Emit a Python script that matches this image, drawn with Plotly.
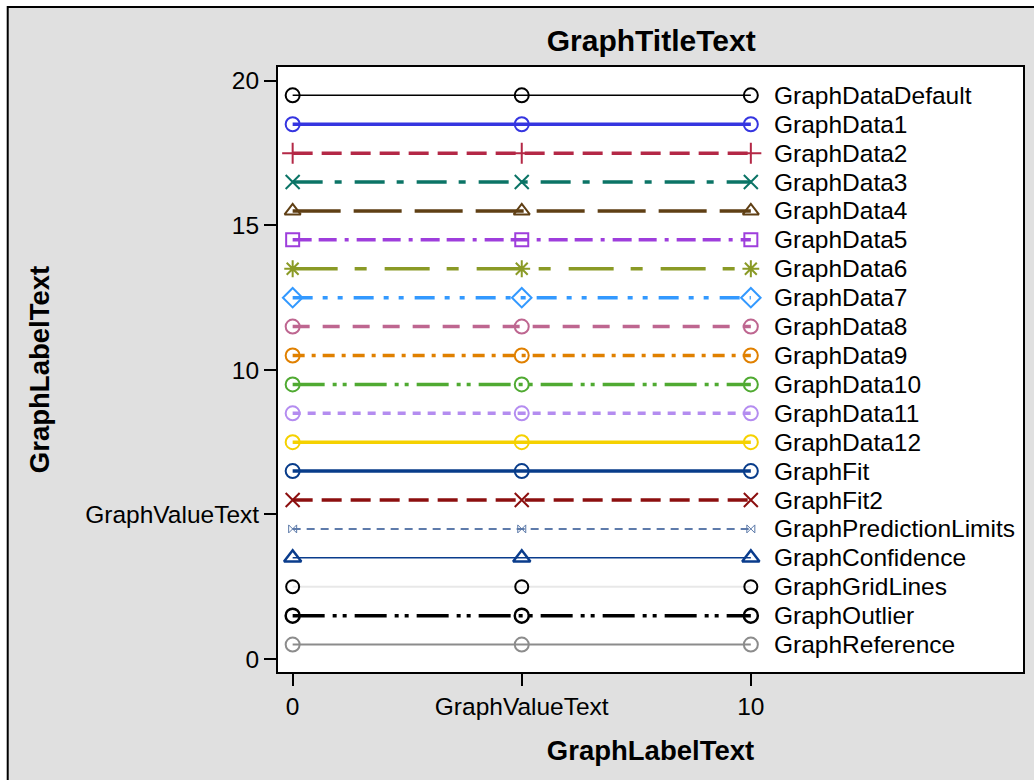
import plotly.graph_objects as go

# ---- data ----
series_names = [
    "GraphDataDefault", "GraphData1", "GraphData2", "GraphData3", "GraphData4",
    "GraphData5", "GraphData6", "GraphData7", "GraphData8", "GraphData9",
    "GraphData10", "GraphData11", "GraphData12", "GraphFit", "GraphFit2",
    "GraphPredictionLimits", "GraphConfidence", "GraphGridLines", "GraphOutlier",
    "GraphReference",
]
series_y = [19.5, 18.5, 17.5, 16.5, 15.5, 14.5, 13.5, 12.5, 11.5, 10.5,
            9.5, 8.5, 7.5, 6.5, 5.5, 4.5, 3.5, 2.5, 1.5, 0.5]
x_values = [0, 5, 10]
x_tickvals = [0, 5, 10]
x_ticktext = ["0", "GraphValueText", "10"]
y_tickvals = [0, 5, 10, 15, 20]
y_ticktext = ["0", "GraphValueText", "10", "15", "20"]

# ---- styles: (line color, line width, dash, marker symbol, marker color, marker size, marker line width)
styles = [
    ("#000000", 1.5, "solid", "circle-open", "#000000", 14, 2),
    ("#3535E0", 3.5, "solid", "circle-open", "#3535E0", 14, 2),
    ("#B42846", 3.5, "20px,9px", "cross-thin-open", "#B42846", 15, 2),
    ("#0B7466", 3.5, "30px,12px,7px,13px", "x-thin-open", "#0B7466", 14, 2),
    ("#5F3F14", 3.5, "48px,13px", "triangle-up-open", "#5F3F14", 14, 2),
    ("#9E3EDC", 3.5, "19px,7px,18px,8px,4px,8px", "square-open", "#9E3EDC", 13, 2),
    ("#8A9A26", 3.5, "45px,17px,12px,18px", "asterisk-open", "#8A9A26", 14, 2),
    ("#3399FF", 3.5, "20px,10px,5px,10px,5px,11px", "diamond-open", "#3399FF", 15, 2),
    ("#BE6690", 3.5, "17px,13px", "circle-open", "#BE6690", 14, 2),
    ("#E08000", 3.5, "12px,7px,4px,7px", "circle-open", "#E08000", 14, 2),
    ("#50AA32", 3.5, "32px,8px,4px,6px,4px,8px", "circle-open", "#50AA32", 14, 2),
    ("#B48CF0", 3.5, "8px,7px", "circle-open", "#B48CF0", 14, 2),
    ("#F5D100", 3.5, "solid", "circle-open", "#F5D100", 14, 2),
    ("#083C8A", 3.5, "solid", "circle-open", "#083C8A", 14, 2),
    ("#8C0F0F", 3.5, "20px,9px", "x-thin-open", "#8C0F0F", 14, 2),
    ("#2A5090", 1.5, "8px,6px", "bowtie-open", "#5A78A8", 8, 1),
    ("#0A3C8C", 1.5, "solid", "triangle-up-open", "#0A3C8C", 15, 2.5),
    ("#E8E8E8", 2, "solid", "circle-open", "#000000", 13, 2),
    ("#000000", 3.5, "32px,8px,4px,6px,4px,8px", "circle-open", "#000000", 14, 2.5),
    ("#8C8C8C", 2, "solid", "circle-open", "#8C8C8C", 14, 2),
]

FONT = "Liberation Sans, Arial, sans-serif"
TXT = 24.5

fig = go.Figure()
for name, yv, st in zip(series_names, series_y, styles):
    lc, lw, dash, sym, mc, ms, mlw = st
    fig.add_trace(go.Scatter(
        x=x_values, y=[yv] * len(x_values), mode="lines+markers", name=name,
        line=dict(color=lc, width=lw, dash=dash),
        marker=dict(symbol=sym, size=ms, color=mc, line=dict(color=mc, width=mlw)),
        showlegend=False, hoverinfo="skip",
    ))
    fig.add_annotation(x=x_values[-1], y=yv, text=name, showarrow=False,
                       xanchor="left", yanchor="middle", xshift=21,
                       font=dict(family=FONT, size=TXT, color="black"))

# outer gray frame and white plot area
fig.add_shape(type="rect", xref="paper", yref="paper", x0=-0.3628, x1=1.03,
              y0=-0.2, y1=1.0992, fillcolor="#E0E0E0",
              line=dict(color="black", width=2), layer="below")
fig.add_shape(type="rect", xref="paper", yref="paper", x0=0, x1=1, y0=0, y1=1,
              fillcolor="white", line=dict(width=0), layer="below")

axis_common = dict(
    showgrid=False, zeroline=False, showline=True, mirror=True,
    linecolor="black", linewidth=2, ticks="outside", ticklen=12,
    tickwidth=2, tickcolor="black",
    tickfont=dict(family=FONT, size=TXT, color="black"),
)

fig.update_layout(
    width=1034, height=780,
    margin=dict(l=278, r=9, t=67, b=108),
    paper_bgcolor="white", plot_bgcolor="white",
    title=dict(text="<b>GraphTitleText</b>", x=0.6298, xanchor="center",
               y=0.948, yanchor="middle", yref="container",
               font=dict(family=FONT, size=30, color="black")),
    xaxis=dict(range=[-0.32, 15.94], tickvals=x_tickvals, ticktext=x_ticktext,
               title=dict(text="<b>GraphLabelText</b>", standoff=21,
                          font=dict(family=FONT, size=27.5, color="black")),
               **axis_common),
    yaxis=dict(range=[-0.45, 20.48], tickvals=y_tickvals, ticktext=y_ticktext,
               title=dict(text="<b>GraphLabelText</b>", standoff=28,
                          font=dict(family=FONT, size=27.5, color="black")),
               **axis_common),
)

fig.write_html("out.html", config={"displayModeBar": False},
               post_script="document.body.style.margin='0';document.body.style.overflow='hidden';")
